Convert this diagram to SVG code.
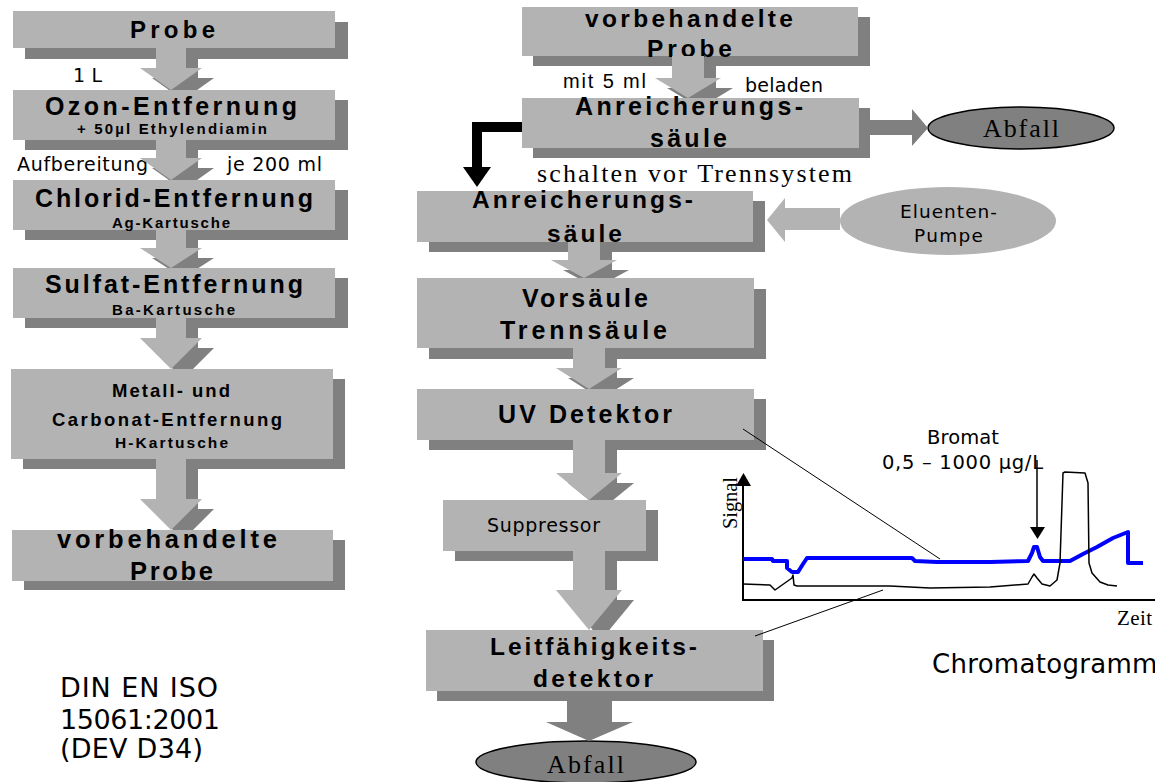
<svg xmlns="http://www.w3.org/2000/svg" width="1155" height="782" viewBox="0 0 1155 782">
<style>
.box{fill:#b3b3b3}
.sh{fill:#808080}
.ar{fill:#b3b3b3}
.ars{fill:#808080}
.b{font-family:"Liberation Sans",Arial,sans-serif;font-weight:bold;fill:#000;text-anchor:middle}
.v{font-family:"DejaVu Sans",Verdana,sans-serif;fill:#000}
.r{font-family:"Liberation Sans",Arial,sans-serif;fill:#000}
.s{font-family:"Liberation Serif","Times New Roman",serif;fill:#000}
.m{text-anchor:middle}
</style>
<rect width="1155" height="782" fill="#fff"/>

<!-- left column -->
<g id="n-probe">
<rect class="sh" x="25" y="22" width="323" height="37"/>
<rect class="box" x="13" y="11" width="322" height="37"/>
<text class="b" x="172.5" y="38" font-size="24" textLength="85" lengthAdjust="spacing">Probe</text>
</g>
<g id="n-ozon">
<rect class="sh" x="25" y="100" width="323" height="50"/>
<rect class="box" x="13" y="90" width="322" height="50"/>
<text class="b" x="171" y="115" font-size="25" textLength="252" lengthAdjust="spacing">Ozon-Entfernung</text>
<text class="b" x="172" y="134" font-size="15" textLength="190" lengthAdjust="spacing">+ 50µl Ethylendiamin</text>
</g>
<g id="n-chlorid">
<rect class="sh" x="25" y="190" width="323" height="50"/>
<rect class="box" x="13" y="180" width="322" height="50"/>
<text class="b" x="174" y="207" font-size="25" textLength="278" lengthAdjust="spacing">Chlorid-Entfernung</text>
<text class="b" x="171" y="228" font-size="15" textLength="118" lengthAdjust="spacing">Ag-Kartusche</text>
</g>
<g id="n-sulfat">
<rect class="sh" x="25" y="278" width="323" height="50"/>
<rect class="box" x="13" y="268" width="322" height="50"/>
<text class="b" x="174" y="293" font-size="25" textLength="258" lengthAdjust="spacing">Sulfat-Entfernung</text>
<text class="b" x="173.5" y="315" font-size="15" textLength="123" lengthAdjust="spacing">Ba-Kartusche</text>
</g>
<g id="n-metall">
<rect class="sh" x="23" y="379" width="322" height="90"/>
<rect class="box" x="11" y="369" width="322" height="90"/>
<text class="b" x="171" y="397" font-size="18.5" textLength="118" lengthAdjust="spacing">Metall- und</text>
<text class="b" x="167" y="426" font-size="18.5" textLength="230" lengthAdjust="spacing">Carbonat-Entfernung</text>
<text class="b" x="171.5" y="448" font-size="15.5" textLength="113" lengthAdjust="spacing">H-Kartusche</text>
</g>
<g id="n-vorbeh-left">
<rect class="sh" x="24" y="540" width="321" height="50"/>
<rect class="box" x="12" y="530" width="321" height="51"/>
<text class="b" x="167" y="548" font-size="25.5" textLength="220" lengthAdjust="spacing">vorbehandelte</text>
<text class="b" x="171.5" y="580" font-size="25.5" textLength="83" lengthAdjust="spacing">Probe</text>
</g>
<g id="n-norm">
<text class="v" x="60" y="697" font-size="27" textLength="158" lengthAdjust="spacing">DIN EN ISO</text>
<text class="v" x="60" y="729" font-size="27" textLength="160" lengthAdjust="spacing">15061:2001</text>
<text class="v" x="60" y="758" font-size="27" textLength="143" lengthAdjust="spacing">(DEV D34)</text>
</g>

<!-- middle column -->
<g id="n-vorbeh">
<rect class="sh" x="533" y="17" width="337" height="49"/>
<rect class="box" x="522" y="7" width="336" height="49"/>
<text class="b" x="689" y="27" font-size="24.5" textLength="208" lengthAdjust="spacing">vorbehandelte</text>
<text class="b" x="689.5" y="57" font-size="24.5" textLength="85" lengthAdjust="spacing">Probe</text>
</g>
<g id="n-anr1">
<rect class="sh" x="533" y="108" width="337" height="50"/>
<rect class="box" x="522" y="98" width="337" height="50"/>
<text class="b" x="689" y="115" font-size="25" textLength="228" lengthAdjust="spacing">Anreicherungs-</text>
<text class="b" x="688.5" y="147" font-size="25" textLength="77" lengthAdjust="spacing">säule</text>
</g>
<g id="n-abfall1">
<ellipse cx="1021" cy="128" rx="93" ry="21" fill="#808080" stroke="#000" stroke-width="1.5"/>
<text class="s m" x="1021" y="137" font-size="26" textLength="76" lengthAdjust="spacing">Abfall</text>
</g>
<g id="n-anr2">
<rect class="sh" x="429" y="201" width="336" height="51"/>
<rect class="box" x="417" y="191" width="336" height="51"/>
<text class="b" x="582.5" y="208" font-size="24.5" textLength="221" lengthAdjust="spacing">Anreicherungs-</text>
<text class="b" x="584.5" y="242" font-size="24.5" textLength="75" lengthAdjust="spacing">säule</text>
</g>
<g id="n-pumpe">
<ellipse cx="948" cy="221" rx="108" ry="34" fill="#b3b3b3"/>
<text class="v m" x="948.5" y="218" font-size="18.5" textLength="97" lengthAdjust="spacing">Eluenten-</text>
<text class="v m" x="948.5" y="242" font-size="18.5" textLength="69" lengthAdjust="spacing">Pumpe</text>
</g>
<g id="n-vorsaeule">
<rect class="sh" x="429" y="289" width="337" height="70"/>
<rect class="box" x="417" y="278" width="337" height="70"/>
<text class="b" x="585" y="307" font-size="25" textLength="126" lengthAdjust="spacing">Vorsäule</text>
<text class="b" x="583.5" y="339" font-size="25" textLength="167" lengthAdjust="spacing">Trennsäule</text>
</g>
<g id="n-uv">
<rect class="sh" x="429" y="399" width="337" height="51"/>
<rect class="box" x="417" y="389" width="337" height="51"/>
<text class="b" x="585" y="423" font-size="25" textLength="174" lengthAdjust="spacing">UV Detektor</text>
</g>
<g id="n-suppressor">
<rect class="sh" x="455" y="510" width="203" height="51"/>
<rect class="box" x="443" y="500" width="203" height="51"/>
<text class="v m" x="543.5" y="532" font-size="19" textLength="113" lengthAdjust="spacing">Suppressor</text>
</g>
<g id="n-leit">
<rect class="sh" x="437" y="640" width="337" height="61"/>
<rect class="box" x="426" y="630" width="337" height="61"/>
<text class="b" x="593.5" y="655" font-size="24.5" textLength="207" lengthAdjust="spacing">Leitfähigkeits-</text>
<text class="b" x="593" y="687" font-size="24.5" textLength="120" lengthAdjust="spacing">detektor</text>
</g>
<g id="n-abfall2">
<ellipse cx="586" cy="762" rx="110" ry="21" fill="#808080" stroke="#000" stroke-width="1.5"/>
<text class="s m" x="585.5" y="773" font-size="26" textLength="77" lengthAdjust="spacing">Abfall</text>
</g>

<!-- chromatogram -->
<g id="n-chromatogramm">
<path d="M743,600 V484 M742,600 H1155" fill="none" stroke="#000" stroke-width="2"/>
<polygon points="736,486 751,486 743.5,473" fill="#000"/>
<polyline fill="none" stroke="#0000ff" stroke-width="4" stroke-linejoin="round" points="743,559 772,559 773,561 787,561 787,568 792,572 798,572 803,564 807,558 912,558 915,561 937,562 990,562 1028,561 1032,553 1034,547 1037,547 1040,557 1043,561 1070,561 1083,554 1097,547 1113,538 1128,532 1128,563 1143,563"/>
<polyline fill="none" stroke="#000" stroke-width="1.5" stroke-linejoin="round" points="743,584 770,585 775,590 792,578 793,575 794,585 797,586 890,586 930,588 990,587 1028,584 1032,577 1034,574 1037,578 1042,584 1050,586 1057,580 1060,563 1063,473 1065,472 1085,473 1088,483 1089,563 1092,573 1100,582 1108,585 1117,586"/>
<line x1="1037" y1="460" x2="1037" y2="528" stroke="#000" stroke-width="1.5"/>
<polygon points="1030,527 1045,527 1037.5,539" fill="#000"/>
<text class="s m" transform="translate(737,503) rotate(-90)" font-size="20.5" textLength="52" lengthAdjust="spacing">Signal</text>
<text class="s" x="1117" y="625" font-size="21" textLength="35" lengthAdjust="spacing">Zeit</text>
<text class="v m" x="963" y="444" font-size="19.5" textLength="72" lengthAdjust="spacing">Bromat</text>
<text class="v m" x="962.5" y="469" font-size="19.5" textLength="161" lengthAdjust="spacing">0,5 – 1000 µg/L</text>
<text class="v" x="932" y="673" font-size="26" letter-spacing="0.3">Chromatogramm</text>
</g>

<!-- labels -->
<g id="labels">
<text class="v" x="73" y="82" font-size="19" textLength="29" lengthAdjust="spacing">1 L</text>
<text class="v" x="17" y="171" font-size="19" textLength="131" lengthAdjust="spacing">Aufbereitung</text>
<text class="v" x="227" y="171" font-size="19" textLength="95" lengthAdjust="spacing">je 200 ml</text>
<text class="r" x="563" y="88" font-size="20" textLength="83" lengthAdjust="spacing">mit 5 ml</text>
<text class="v" x="745" y="92" font-size="19" textLength="78" lengthAdjust="spacing">beladen</text>
<text class="s" x="537" y="182" font-size="26" textLength="315" lengthAdjust="spacing">schalten vor Trennsystem</text>
</g>

<!-- connectors -->
<g id="connectors">
<polygon class="ars" points="168,58 198,58 198,78 214,78 197.1,90 168.9,90 152,78 168,78"/>
<polygon class="ar" points="156,48 186,48 186,68 202,68 171,90 140,68 156,68"/>
<polygon class="ars" points="168,150 198,150 198,168 214,168 197.1,180 168.9,180 152,168 168,168"/>
<polygon class="ar" points="156,140 186,140 186,158 202,158 171,180 140,158 156,158"/>
<polygon class="ars" points="168,240 198,240 198,258 214,258 198.5,268 167.5,268 152,258 168,258"/>
<polygon class="ar" points="156,230 186,230 186,248 202,248 171,268 140,248 156,248"/>
<polygon class="ars" points="168,328 198,328 198,348 214,348 193,369 173,369 152,348 168,348"/>
<polygon class="ar" points="156,318 186,318 186,338 202,338 171,369 140,338 156,338"/>
<polygon class="ars" points="168,469 198,469 198,509 214,509 193,530 173,530 152,509 168,509"/>
<polygon class="ar" points="156,459 186,459 186,499 202,499 171,530 140,499 156,499"/>

<polygon class="ars" points="684,66 716,66 716,88 733,88 716.5,98 683.5,98 667,88 684,88"/>
<polygon class="ar" points="672,56 704,56 704,78 721,78 688,98 655,78 672,78"/>
<polygon class="ars" points="580,252 612,252 612,270 629,270 614.3,278 577.7,278 563,270 580,270"/>
<polygon class="ar" points="568,242 600,242 600,260 617,260 584,278 551,260 568,260"/>
<polygon class="ars" points="585,358 617,358 617,378 634,378 616.7,389 585.3,389 568,378 585,378"/>
<polygon class="ar" points="573,348 605,348 605,368 622,368 589,389 556,368 573,368"/>
<polygon class="ars" points="585,450 617,450 617,483 634,483 613.2,500 588.8,500 568,483 585,483"/>
<polygon class="ar" points="573,440 605,440 605,473 622,473 589,500 556,473 573,473"/>
<polygon class="ars" points="585,561 617,561 617,600 634,600 609.3,630 592.8,630 568,600 585,600"/>
<polygon class="ar" points="573,551 605,551 605,590 622,590 589,630 556,590 573,590"/>
<polygon class="ars" points="567,701 612,701 612,722 633,722 589,741 546,722 567,722"/>

<polygon class="ars" points="859,120 912,120 912,109 928,128 912,146 912,135 859,135"/>
<polygon class="ar" points="840,208 785,208 785,198 767,220 785,242 785,230 840,230"/>
<path d="M522,127 H477 V168" fill="none" stroke="#000" stroke-width="10"/>
<polygon points="463,167 491,167 477,187" fill="#000"/>

<line x1="743" y1="429" x2="940" y2="559" stroke="#000" stroke-width="1"/>
<line x1="755" y1="636" x2="883" y2="590" stroke="#000" stroke-width="1"/>
</g>
</svg>
